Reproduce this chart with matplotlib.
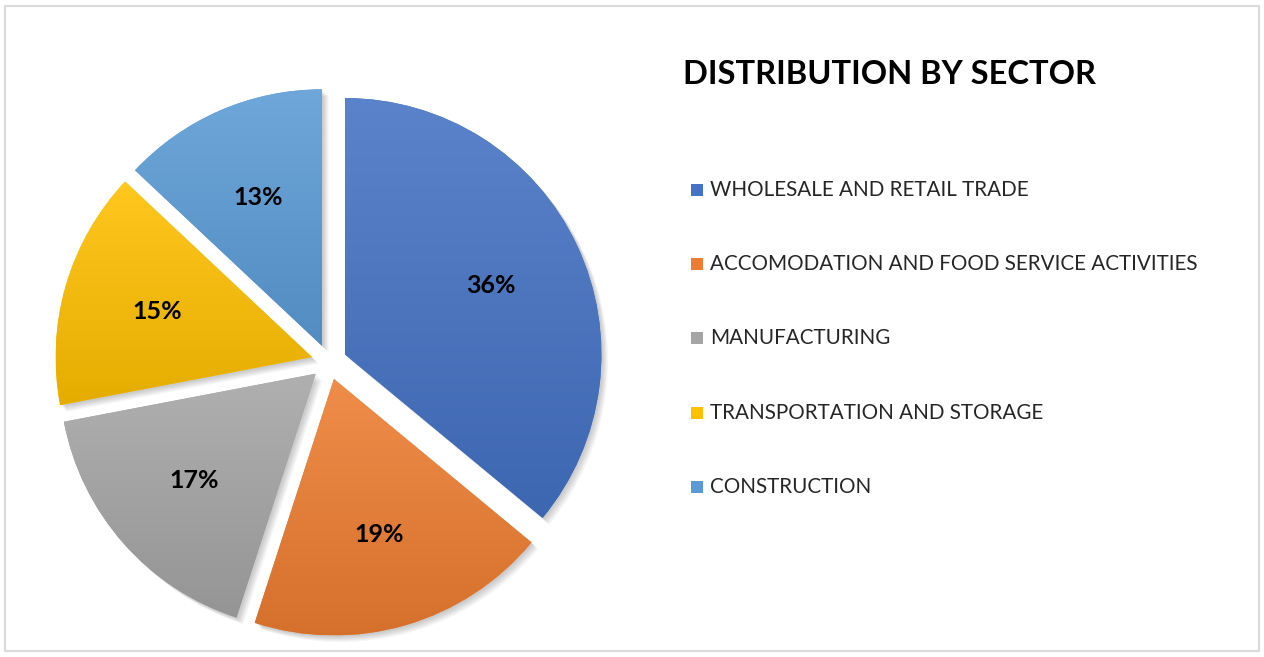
"""
# Pie chart: distribution by sector
"""

### Packages
import numpy as np
import matplotlib.pyplot as plt
from matplotlib.colors import to_rgb
from matplotlib.patches import Rectangle, Wedge

### Data
sectors = ["WHOLESALE AND RETAIL TRADE",
           "ACCOMODATION AND FOOD SERVICE ACTIVITIES",
           "MANUFACTURING",
           "TRANSPORTATION AND STORAGE",
           "CONSTRUCTION"]
shares = [36, 19, 17, 15, 13]
colors = ["#4472C4", "#ED7D31", "#A5A5A5", "#FFC000", "#5B9BD5"]
title = "DISTRIBUTION BY SECTOR"

plt.rcParams['font.family'] = ['Lato', 'DejaVu Sans']

W, H = 1264, 657
fig = plt.figure(figsize=(W / 100, H / 100), dpi=100)

# Pie axes, 600x600 px square centred on (329, 362) px from top-left
ax = fig.add_axes([29 / W, (H - 362 - 300) / H, 600 / W, 600 / H])
wedges, texts, autotexts = ax.pie(shares, colors=colors, startangle=90, counterclock=False,
                                  explode=[0.069] * len(shares), autopct='%1.0f%%',
                                  pctdistance=0.63,
                                  textprops={'fontsize': 18, 'fontweight': 'bold', 'color': 'black'})

def shade(c, f):
    # f > 0 lighten, f < 0 darken
    c = np.array(to_rgb(c))
    if f > 0:
        return c + (1 - c) * f
    return c * (1 + f)

# Gradient fill and soft shadow for each slice
for w, c in zip(wedges, colors):
    for k in range(6):
        off = 0.006 + 0.004 * k
        sh = Wedge((w.center[0] + off, w.center[1] - off), w.r, w.theta1, w.theta2,
                   facecolor='black', edgecolor='none', alpha=0.035, zorder=0)
        ax.add_patch(sh)
    w.set_zorder(1)
    x0, y0, x1, y1 = w.get_path().get_extents().extents
    grad = np.linspace(0, 1, 200)[:, None]
    top, bottom = shade(c, 0.12), shade(c, -0.10)
    img = (top[None, None, :] * (1 - grad[:, :, None]) + bottom[None, None, :] * grad[:, :, None])
    im = ax.imshow(img, extent=[x0, x1, y0, y1], aspect='auto', zorder=2, interpolation='bilinear')
    im.set_clip_path(w)

for t in autotexts:
    t.set_zorder(5)

ax.set_xlim(-1.17, 1.17)
ax.set_ylim(-1.17, 1.17)
ax.set_aspect('equal')
ax.axis('off')

# Title
fig.text(683 / W, 1 - 74 / H, title, fontsize=23.5, fontweight='bold', va='center', ha='left')

# Legend
for i, (name, c) in enumerate(zip(sectors, colors)):
    y = 190 + i * 74.2
    fig.patches.append(Rectangle((691 / W, 1 - (y + 6) / H), 12 / W, 12 / H,
                                 transform=fig.transFigure, facecolor=c, edgecolor='none'))
    fig.text(710 / W, 1 - y / H, name, fontsize=14.85, va='center', ha='left', color='#262626')

# Outer border
fig.patches.append(Rectangle((5 / W, 6 / H), 1254 / W, 645 / H, transform=fig.transFigure,
                             fill=False, edgecolor='#d9d9d9', linewidth=1.5))

plt.savefig('out.png', format='png')
plt.close()
